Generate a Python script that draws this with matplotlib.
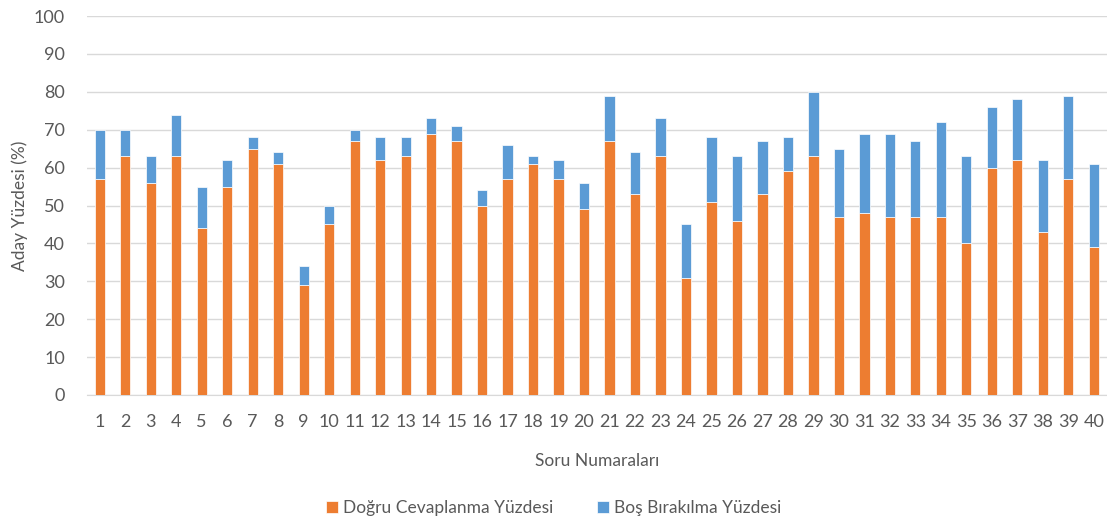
import matplotlib.pyplot as plt
import numpy as np

plt.rcParams['font.family'] = ['Lato', 'DejaVu Sans']

sorular = [str(i) for i in range(1, 41)]
dogru = [57, 63, 56, 63, 44, 55, 65, 61, 29, 45,
         67, 62, 63, 69, 67, 50, 57, 61, 57, 49,
         67, 53, 63, 31, 51, 46, 53, 59, 63, 47,
         48, 47, 47, 47, 40, 60, 62, 43, 57, 39]
toplam = [70, 70, 63, 74, 55, 62, 68, 64, 34, 50,
          70, 68, 68, 73, 71, 54, 66, 63, 62, 56,
          79, 64, 73, 45, 68, 63, 67, 68, 80, 65,
          69, 69, 67, 72, 63, 76, 78, 62, 79, 61]
bos = [t - d for t, d in zip(toplam, dogru)]

grey = '#595959'
fig = plt.figure(figsize=(11.07, 5.19), dpi=100)
ax = fig.add_axes([0.0786, 0.239, 0.921, 0.730])
x = np.arange(len(sorular))
ax.bar(x, dogru, width=0.4, color='#ED7D31', edgecolor='white', linewidth=0.5,
       label='Doğru Cevaplanma Yüzdesi', zorder=3)
ax.bar(x, bos, width=0.4, bottom=dogru, color='#5B9BD5', edgecolor='white', linewidth=0.5,
       label='Boş Bırakılma Yüzdesi', zorder=3)

ax.set_xlim(-0.5, len(sorular) - 0.5)
ax.set_ylim(0, 100)
ax.set_yticks(np.arange(0, 101, 10))
ax.set_xticks(x)
ax.set_xticklabels(sorular)
ax.grid(axis='y', color='#D9D9D9', linewidth=1, zorder=0)
for s in ['top', 'right', 'left']:
    ax.spines[s].set_visible(False)
ax.spines['bottom'].set_color('#D9D9D9')
ax.tick_params(length=0, labelsize=13, colors=grey)
ax.tick_params(axis='x', pad=14)
ax.tick_params(axis='y', pad=16)
ax.set_xlabel('Soru Numaraları', fontsize=12.5, color=grey, labelpad=16)
ax.set_ylabel('Aday Yüzdesi (%)', fontsize=12.5, color=grey, labelpad=4)
fig.legend(loc='lower center', bbox_to_anchor=(0.5, -0.025), ncol=2, frameon=False,
           fontsize=12.5, labelcolor=grey, handlelength=0.7, handleheight=0.7,
           columnspacing=2.5, handletextpad=0.3)
fig.savefig('out.png', dpi=100)
